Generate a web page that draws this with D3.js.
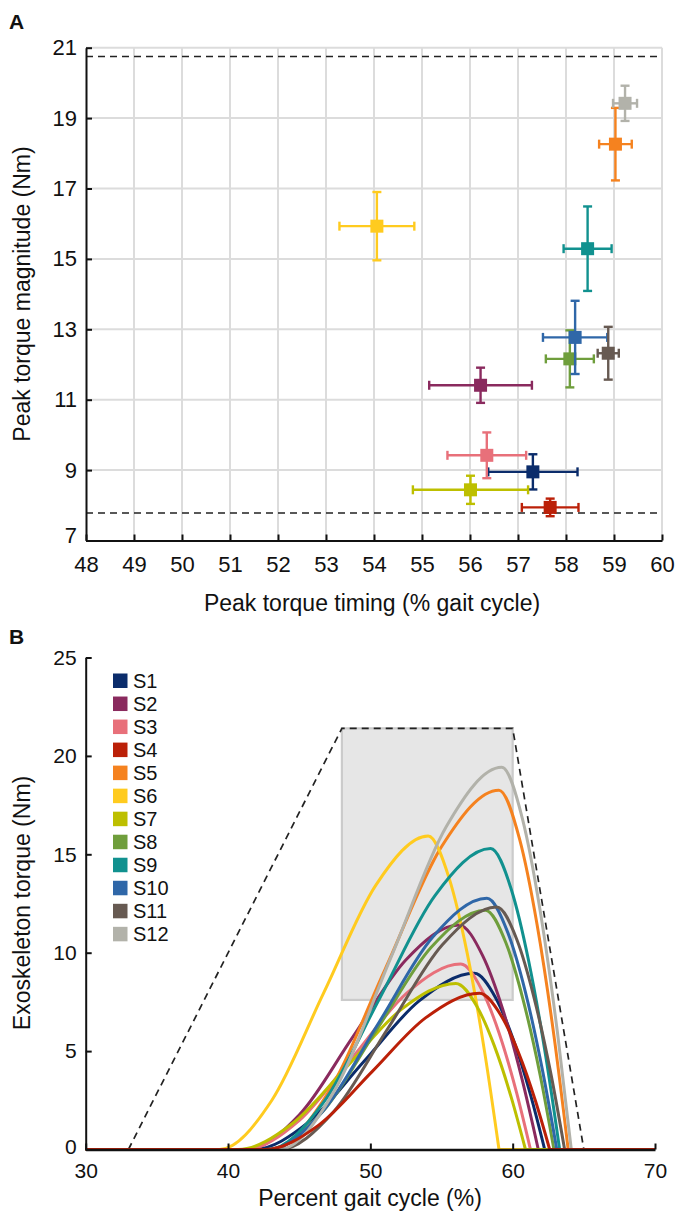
<!DOCTYPE html>
<html>
<head>
<meta charset="utf-8">
<script src="https://cdn.jsdelivr.net/npm/d3@7"></script>
<style>
  html, body { margin: 0; padding: 0; background: #fff; }
  svg { display: block; font-family: "Liberation Sans", Arial, Helvetica, sans-serif; }
</style>
</head>
<body>
<script>
// ---- Subjects ----
const subjects = ["S1", "S2", "S3", "S4", "S5", "S6", "S7", "S8", "S9", "S10", "S11", "S12"];
const colors = ["#0b2c6b", "#8a2a5e", "#e8707a", "#bb2008", "#f5821f", "#ffcb1f",
                "#bdbf00", "#6f9e3c", "#11918f", "#2f67a8", "#675a52", "#b2b2aa"];

// ---- Panel A: peak torque timing / magnitude (mean ± SD) ----
const peakTiming   = [57.31, 56.22, 56.35, 57.67, 59.03, 54.06, 56.01, 58.08, 58.45, 58.19, 58.88, 59.23];
const peakTimingSD = [0.93, 1.07, 0.82, 0.59, 0.34, 0.78, 1.20, 0.50, 0.50, 0.67, 0.22, 0.25];
const peakTorque   = [8.95, 11.41, 9.42, 7.94, 18.26, 15.93, 8.44, 12.16, 15.29, 12.77, 12.32, 19.42];
const peakTorqueSD = [0.50, 0.50, 0.65, 0.25, 1.03, 0.97, 0.40, 0.81, 1.20, 1.04, 0.75, 0.50];
const torqueBounds = [7.78, 20.75];
const timingTicksA = [48, 49, 50, 51, 52, 53, 54, 55, 56, 57, 58, 59, 60];
const torqueTicksA = [7, 9, 11, 13, 15, 17, 19, 21];

// ---- Panel B: mean exoskeleton torque profiles (knots: % gait cycle, Nm) ----
const torqueProfiles = [
  [[41.8, 0], [45.68, 1.40], [49.56, 4.48], [53.43, 7.55], [57.31, 8.95], [58.79, 7.72], [60.03, 5.61], [61.26, 2.76], [62.25, 0]],     // S1
  [[41.3, 0], [45.03, 1.78], [48.76, 5.71], [52.49, 9.63], [56.22, 11.41], [57.89, 9.85], [59.29, 7.15], [60.68, 3.51], [61.8, 0]],    // S2
  [[41.2, 0], [44.99, 1.47], [48.78, 4.71], [52.56, 7.95], [56.35, 9.42], [57.82, 8.13], [59.05, 5.91], [60.27, 2.90], [61.25, 0]],    // S3
  [[42.6, 0], [46.37, 1.24], [50.14, 3.97], [53.90, 6.70], [57.67, 7.94], [59.15, 6.85], [60.38, 4.98], [61.61, 2.45], [62.6, 0]],     // S4
  [[43.0, 0], [47.01, 2.85], [51.02, 9.13], [55.02, 15.41], [59.03, 18.26], [60.49, 15.76], [61.71, 11.45], [62.93, 5.62], [63.9, 0]], // S5
  [[39.4, 0], [43.07, 2.49], [46.73, 7.97], [50.40, 13.45], [54.06, 15.93], [55.55, 13.75], [56.80, 9.99], [58.04, 4.91], [59.04, 0]], // S6
  [[40.7, 0], [44.53, 1.32], [48.36, 4.22], [52.18, 7.12], [56.01, 8.44], [57.48, 7.28], [58.70, 5.29], [59.92, 2.60], [60.9, 0]],     // S7
  [[42.8, 0], [46.62, 1.90], [50.44, 6.08], [54.26, 10.26], [58.08, 12.16], [59.53, 10.49], [60.73, 7.62], [61.94, 3.75], [62.9, 0]],  // S8
  [[42.8, 0], [46.71, 2.39], [50.63, 7.65], [54.54, 12.90], [58.45, 15.29], [59.91, 13.20], [61.12, 9.59], [62.33, 4.71], [63.3, 0]],  // S9
  [[42.9, 0], [46.72, 1.99], [50.55, 6.39], [54.37, 10.78], [58.19, 12.77], [59.66, 11.02], [60.89, 8.01], [62.12, 3.93], [63.1, 0]],  // S10
  [[43.6, 0], [47.42, 1.92], [51.24, 6.16], [55.06, 10.40], [58.88, 12.32], [60.31, 10.63], [61.50, 7.72], [62.70, 3.79], [63.65, 0]], // S11
  [[43.6, 0], [47.51, 3.03], [51.42, 9.71], [55.32, 16.39], [59.23, 19.42], [60.70, 16.76], [61.92, 12.18], [63.14, 5.98], [64.12, 0]] // S12
];
const peakWindowTiming = [48, 60];
const peakWindowTorque = [7.6, 21.4];
const actuationEnvelope = [[33, 0], [48, 21.4], [60, 21.4], [65, 0]];
const gaitTicksB = [30, 40, 50, 60, 70];
const torqueTicksB = [0, 5, 10, 15, 20, 25];

const W = 678, H = 1213;
const TICK_A = 22, TICK_B = 21, TITLE = 23, LEGEND = 20;
const FAMILY = '"Liberation Sans", Arial, sans-serif';
const svg = d3.select("body").append("svg").attr("width", W).attr("height", H);

function styleAxis(g, size) {
  g.select(".domain").attr("stroke", "#111").attr("stroke-width", 2);
  g.selectAll(".tick line").attr("stroke", "#111").attr("stroke-width", 2);
  g.selectAll(".tick text").attr("fill", "#111").style("font-size", size + "px")
    .style("font-family", FAMILY);
}

// =================== Panel A ===================
const xA = d3.scaleLinear().domain([48, 60]).range([86, 662]);
const yA = d3.scaleLinear().domain([7, 21]).range([540.5, 47.7]);
const gA = svg.append("g");

// grid
gA.append("g").selectAll("line.vg").data(timingTicksA.slice(1)).join("line")
  .attr("x1", d => xA(d)).attr("x2", d => xA(d)).attr("y1", yA(7)).attr("y2", yA(21))
  .attr("stroke", "#dcdcdc").attr("stroke-width", 2);
gA.append("g").selectAll("line.hg").data(torqueTicksA.slice(1)).join("line")
  .attr("x1", xA(48)).attr("x2", xA(60)).attr("y1", d => yA(d)).attr("y2", d => yA(d))
  .attr("stroke", "#dcdcdc").attr("stroke-width", 2);

// bounds
gA.append("g").selectAll("line").data(torqueBounds).join("line")
  .attr("x1", xA(48)).attr("x2", xA(60)).attr("y1", d => yA(d)).attr("y2", d => yA(d))
  .attr("stroke", "#222").attr("stroke-width", 1.6).attr("stroke-dasharray", "7,5");

// axes
const axAx = gA.append("g").attr("transform", `translate(0,${yA(7)})`)
  .call(d3.axisBottom(xA).tickValues(timingTicksA).tickFormat(d3.format("d"))
    .tickSizeInner(-6).tickSizeOuter(0).tickPadding(16));
styleAxis(axAx, TICK_A);
const axAy = gA.append("g").attr("transform", `translate(${xA(48)},0)`)
  .call(d3.axisLeft(yA).tickValues(torqueTicksA).tickFormat(d3.format("d"))
    .tickSizeInner(-6).tickSizeOuter(0).tickPadding(9));
styleAxis(axAy, TICK_A);
// the bottom-left "7" sits a little above the corner
axAy.selectAll(".tick").filter(d => d === 7).select("text").attr("dy", "0.1em");

// error bars
const capHalf = 4.5;
const order = d3.range(subjects.length).filter(i => i !== 3).concat([3]);
const pts = gA.append("g").selectAll("g").data(order).join("g")
  .attr("stroke", i => colors[i]).attr("fill", i => colors[i]).attr("stroke-width", 2.4);
pts.append("line")
  .attr("x1", i => xA(peakTiming[i] - peakTimingSD[i])).attr("x2", i => xA(peakTiming[i] + peakTimingSD[i]))
  .attr("y1", i => yA(peakTorque[i])).attr("y2", i => yA(peakTorque[i]));
pts.append("line")
  .attr("x1", i => xA(peakTiming[i])).attr("x2", i => xA(peakTiming[i]))
  .attr("y1", i => yA(peakTorque[i] - peakTorqueSD[i])).attr("y2", i => yA(peakTorque[i] + peakTorqueSD[i]));
[-1, 1].forEach(s => {
  pts.append("line")
    .attr("x1", i => xA(peakTiming[i] + s * peakTimingSD[i])).attr("x2", i => xA(peakTiming[i] + s * peakTimingSD[i]))
    .attr("y1", i => yA(peakTorque[i]) - capHalf).attr("y2", i => yA(peakTorque[i]) + capHalf);
  pts.append("line")
    .attr("x1", i => xA(peakTiming[i]) - capHalf).attr("x2", i => xA(peakTiming[i]) + capHalf)
    .attr("y1", i => yA(peakTorque[i] + s * peakTorqueSD[i])).attr("y2", i => yA(peakTorque[i] + s * peakTorqueSD[i]));
});
pts.append("rect")
  .attr("x", i => xA(peakTiming[i]) - 6.5).attr("y", i => yA(peakTorque[i]) - 6.5)
  .attr("width", 13).attr("height", 13).attr("stroke", "none");

// titles
svg.append("text").attr("x", 9).attr("y", 29).text("A")
  .style("font-size", "21px").style("font-weight", "bold").attr("fill", "#111");
svg.append("text").attr("x", 372).attr("y", 611).attr("text-anchor", "middle")
  .text("Peak torque timing (% gait cycle)").style("font-size", TITLE + "px").attr("fill", "#111");
svg.append("text").attr("transform", "translate(30,294) rotate(-90)").attr("text-anchor", "middle")
  .text("Peak torque magnitude (Nm)").style("font-size", TITLE + "px").attr("fill", "#111");

// =================== Panel B ===================
const xB = d3.scaleLinear().domain([30, 70]).range([85.7, 655]);
const yB = d3.scaleLinear().domain([0, 25]).range([1149.5, 657.5]);
const gB = svg.append("g");

// peak window box
gB.append("rect")
  .attr("x", xB(peakWindowTiming[0])).attr("y", yB(peakWindowTorque[1]))
  .attr("width", xB(peakWindowTiming[1]) - xB(peakWindowTiming[0]))
  .attr("height", yB(peakWindowTorque[0]) - yB(peakWindowTorque[1]))
  .attr("fill", "#e6e6e6").attr("stroke", "#cbcbcb").attr("stroke-width", 2.2);

// actuation envelope
gB.append("path").datum(actuationEnvelope)
  .attr("d", d3.line().x(d => xB(d[0])).y(d => yB(d[1])))
  .attr("fill", "none").attr("stroke", "#222").attr("stroke-width", 1.7).attr("stroke-dasharray", "7,5");

// torque profiles
const riseFall = d3.line().x(d => xB(d[0])).y(d => yB(d[1])).curve(d3.curveMonotoneX);
const flat = d3.line().x(d => xB(d[0])).y(d => yB(d[1]));
const prof = gB.append("g").selectAll("g").data(order).join("g")
  .attr("fill", "none").attr("stroke", i => colors[i]).attr("stroke-width", 3)
  .attr("stroke-linejoin", "round");
prof.append("path").attr("d", i => riseFall([[30, 0]].concat(torqueProfiles[i])));
prof.append("path").attr("d", i => flat([torqueProfiles[i][torqueProfiles[i].length - 1], [70, 0]]));

// axes
const axBx = gB.append("g").attr("transform", `translate(0,${yB(0)})`)
  .call(d3.axisBottom(xB).tickValues(gaitTicksB).tickFormat(d3.format("d"))
    .tickSizeInner(-6).tickSizeOuter(0).tickPadding(14));
styleAxis(axBx, TICK_B);
axBx.select(".domain").attr("stroke-width", 2.5);
const axBy = gB.append("g").attr("transform", `translate(${xB(30)},0)`)
  .call(d3.axisLeft(yB).tickValues(torqueTicksB).tickFormat(d3.format("d"))
    .tickSizeInner(-6).tickSizeOuter(0).tickPadding(9));
styleAxis(axBy, TICK_B);
axBy.selectAll(".tick").filter(d => d === 0).select("text").attr("dy", "0.2em");

// legend
const leg = gB.append("g").selectAll("g").data(subjects).join("g")
  .attr("transform", (d, i) => `translate(113,${673.5 + i * 23.03})`);
leg.append("rect").attr("width", 14.5).attr("height", 14.5).attr("fill", (d, i) => colors[i]);
leg.append("text").attr("x", 20).attr("y", 14.5).text(d => d)
  .style("font-size", LEGEND + "px").attr("fill", "#111");

svg.append("text").attr("x", 9).attr("y", 644).text("B")
  .style("font-size", "21px").style("font-weight", "bold").attr("fill", "#111");
svg.append("text").attr("x", 370).attr("y", 1206).attr("text-anchor", "middle")
  .text("Percent gait cycle (%)").style("font-size", TITLE + "px").attr("fill", "#111");
svg.append("text").attr("transform", "translate(30,903) rotate(-90)").attr("text-anchor", "middle")
  .text("Exoskeleton torque (Nm)").style("font-size", TITLE + "px").attr("fill", "#111");
</script>
</body>
</html>
